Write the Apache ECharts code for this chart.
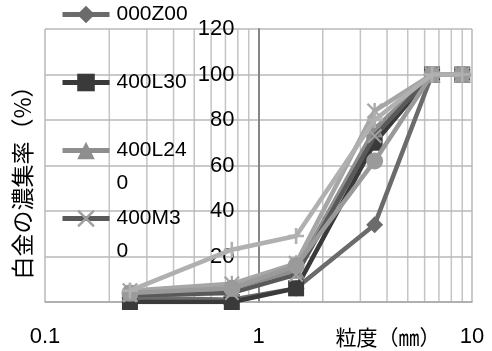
<!DOCTYPE html>
<html>
<head>
<meta charset="utf-8">
<script src="https://cdn.jsdelivr.net/npm/echarts@6/dist/echarts.min.js"></script>
<style>html,body{margin:0;padding:0;background:#fff}#c{width:492px;height:351px}</style>
</head>
<body>
<div id="c"></div>
<script>
// sieve sizes (mm)
const sizes = [0.25, 0.75, 1.5, 3.5, 6.5, 9];
// series values (%)
const s000Z00 = [2, 1, 6, 34, 100, 100];
const s400L30 = [0, 0, 6, 70, 100, 100];
const s400L240 = [4, 6, 14, 76, 100, 100];
const s400M30 = [3, 4, 12, 73, 100, 100];
const s5 = [5, 8, 17, 84, 100, 100];
const s6 = [4, 6, 16, 62, 100, 100];
const s7 = [5, 23, 29, 80, 100, 100];
const seriesNames = ['000Z00', '400L30', '400L240', '400M30', '系列5', '系列6', '系列7'];
const legendNames = ['000Z00', '400L30', '400L240', '400M30'];
// legend text as wrapped in the reference: [first line, second line]
const legendLines = {
  '000Z00': ['000Z00', ''],
  '400L30': ['400L30', ''],
  '400L240': ['400L24', '0'],
  '400M30': ['400M3', '0']
};
const xTickLabels = ['0.1', '1', '10'];
const yTicks = [0, 20, 40, 60, 80, 100, 120];
const minorGrid = [0.2, 0.3, 0.4, 0.5, 0.6, 0.7, 0.8, 0.9, 2, 3, 4, 5, 6, 7, 8, 9];
const yTitle = '白金の濃集率（%）';
const xTitle = '粒度（㎜）';

const FONT = '"Liberation Sans", "Noto Sans CJK JP", sans-serif';
const X_SYM = 'path://M1,0L5,4L9,0L10,1L6,5L10,9L9,10L5,6L1,10L0,9L4,5L0,1Z';
const PLUS_SYM = 'path://M4.2,0H5.8V4.2H10V5.8H5.8V10H4.2V5.8H0V4.2H4.2Z';
const STAR_SYM = 'path://M1,0L5,4L9,0L10,1L6,5L10,9L9,10L5,6L1,10L0,9L4,5L0,1Z M4.3,0H5.7V10H4.3Z';

const values = [s000Z00, s400L30, s400L240, s400M30, s5, s6, s7];
const styles = [
  {line: '#6b6b6b', mark: '#6b6b6b', symbol: 'diamond', size: 17},
  {line: '#3a3a3a', mark: '#3a3a3a', symbol: 'rect', size: 16},
  {line: '#8e8e8e', mark: '#8e8e8e', symbol: 'triangle', size: 17},
  {line: '#595959', mark: '#a0a0a0', symbol: X_SYM, size: 15},
  {line: '#a6a6a6', mark: '#a6a6a6', symbol: STAR_SYM, size: 16},
  {line: '#9a9a9a', mark: '#9a9a9a', symbol: 'circle', size: 17},
  {line: '#b0b0b0', mark: '#b0b0b0', symbol: PLUS_SYM, size: 16}
];

// minor vertical gridlines (log decades), drawn as broken line segments through the axes
const gridData = [];
minorGrid.forEach(v => { gridData.push([v, 0], [v, 120], [v, null]); });

const series = [{
  type: 'line', name: '_grid', data: gridData, silent: true, z: -1,
  showSymbol: false, symbol: 'none', connectNulls: false,
  lineStyle: {color: '#c4c4c4', width: 1.5},
  emphasis: {disabled: true},
  animation: false
}];
values.forEach((vals, i) => {
  const st = styles[i];
  series.push({
    type: 'line', name: seriesNames[i], z: 3 + i,
    data: sizes.map((x, k) => [x, vals[k]]),
    symbol: st.symbol, symbolSize: st.size, showAllSymbol: true,
    lineStyle: {color: st.line, width: 4.5},
    itemStyle: {color: st.mark},
    emphasis: {disabled: true},
    animation: false
  });
});

function legendFmt(n) {
  const l = legendLines[n] || [n, ''];
  return ' \n' + l[0] + '\n' + (l[1] || ' ');
}

const chart = echarts.init(document.getElementById('c'));
chart.setOption({
  animation: false,
  backgroundColor: '#fff',
  textStyle: {fontFamily: FONT},
  grid: {left: 45, right: 20, top: 29, bottom: 49, containLabel: false},
  xAxis: {
    type: 'log', logBase: 10, min: 0.1, max: 10,
    axisLine: {show: true, lineStyle: {color: '#a8a8a8', width: 1.5}},
    axisTick: {show: false},
    splitLine: {show: true, lineStyle: {color: '#b8b8b8', width: 1.5}},
    axisLabel: {
      fontSize: 22, color: '#000', fontFamily: FONT, margin: 24,
      formatter: function (v) {
        const idx = Math.round(Math.log10(v)) + 1;
        return xTickLabels[idx] !== undefined ? xTickLabels[idx] : '';
      }
    }
  },
  yAxis: {
    type: 'value', min: 0, max: 120, interval: 20,
    position: 'left', offset: -213.5,
    axisLine: {show: true, lineStyle: {color: '#868686', width: 2}},
    axisTick: {show: false},
    splitLine: {show: true, lineStyle: {color: '#b8b8b8', width: 1.5}},
    axisLabel: {
      fontSize: 22, color: '#000', fontFamily: FONT, margin: 24,
      formatter: function (v) { return yTicks.indexOf(v) >= 0 ? String(v) : ''; }
    }
  },
  legend: {
    orient: 'vertical', left: 60, top: -35, padding: 0,
    itemGap: -31, itemWidth: 47, itemHeight: 22,
    data: legendNames,
    formatter: legendFmt,
    selectedMode: false,
    lineStyle: {width: 5},
    textStyle: {fontSize: 21, color: '#000', fontFamily: FONT, lineHeight: 33, padding: [0, 0, 0, 2]}
  },
  graphic: [
    {type: 'text', x: 22, y: 177, rotation: Math.PI / 2,
     style: {text: yTitle, fontSize: 23, fill: '#000', fontFamily: '"Noto Sans CJK JP", sans-serif', align: 'center', verticalAlign: 'middle'}},
    {type: 'text', x: 388, y: 337,
     style: {text: xTitle, fontSize: 21, fill: '#000', fontFamily: '"Noto Sans CJK JP", sans-serif', align: 'center', verticalAlign: 'middle'}}
  ],
  series: series
});
</script>
</body>
</html>
